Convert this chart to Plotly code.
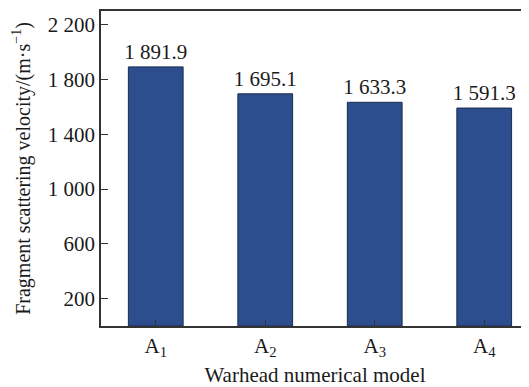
import plotly.graph_objects as go

categories = ["A<sub>1</sub>", "A<sub>2</sub>", "A<sub>3</sub>", "A<sub>4</sub>"]
values = [1891.9, 1695.1, 1633.3, 1591.3]
value_labels = ["1 891.9", "1 695.1", "1 633.3", "1 591.3"]
y_tickvals = [200, 600, 1000, 1400, 1800, 2200]
y_ticktext = ["200", "600", "1 000", "1 400", "1 800", "2 200"]

font = "Liberation Serif"

fig = go.Figure(go.Bar(
    x=list(range(len(categories))),
    y=values,
    width=0.5,
    marker=dict(color="#2C4D8E", line=dict(color="#1B2B4A", width=1)),
    text=value_labels,
    textposition="outside",
    constraintext="none",
    textfont=dict(family=font, size=21, color="#1a1a1a"),
    cliponaxis=False,
))

# page body adds an 8px offset; figure sized to fit the 529x387 window
fig.update_layout(
    width=521, height=379,
    margin=dict(l=93, r=0, t=3, b=59),
    paper_bgcolor="white", plot_bgcolor="white",
    font=dict(family=font, size=20, color="#1a1a1a"),
    showlegend=False,
)
fig.update_xaxes(
    range=[-0.5, 3.409],
    tickvals=list(range(len(categories))),
    ticktext=categories,
    ticks="inside", ticklen=6, tickcolor="#333", tickwidth=1,
    showline=True, linecolor="#333", linewidth=1.5, mirror=True,
    showgrid=False, zeroline=False,
    tickfont=dict(family=font, size=21),
    title=dict(text="Warhead numerical model", font=dict(family=font, size=21), standoff=12),
)
fig.update_yaxes(
    range=[0, 2300],
    tickvals=y_tickvals, ticktext=y_ticktext,
    ticks="inside", ticklen=7, tickcolor="#333", tickwidth=1,
    showline=True, linecolor="#333", linewidth=1.5,
    showgrid=False, zeroline=False,
    tickfont=dict(family=font, size=21),
    title=dict(text="Fragment scattering velocity/(m·s<sup>−1</sup>)", font=dict(family=font, size=20), standoff=12),
)

fig.write_html("out.html")
